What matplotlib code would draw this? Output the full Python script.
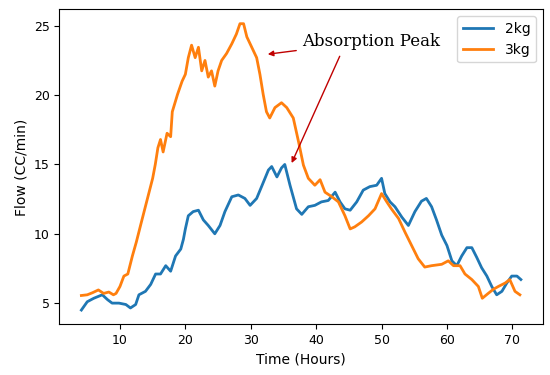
import matplotlib
matplotlib.use("Agg")
import matplotlib.pyplot as plt

# 2kg series (hours, flow)
hours_2kg = [4.1, 5.0, 6.0, 7.3, 8.1, 8.8, 9.85, 10.9, 11.6, 12.4, 12.9, 13.9, 14.7,
             15.45, 16.2, 17.0, 17.75, 18.5, 19.3, 19.7, 20.0, 20.45, 21.2, 22.0, 22.75,
             23.5, 24.5, 25.3, 26.05, 27.1, 28.1, 29.1, 29.9, 30.9, 31.65, 32.7, 33.2,
             34.0, 34.7, 35.2, 36.0, 37.0, 37.8, 38.8, 39.8, 40.8, 41.85, 42.9, 43.65,
             44.4, 45.2, 46.2, 47.2, 48.2, 49.25, 50.0, 50.5, 51.3, 52.05, 53.1, 54.1,
             55.1, 56.1, 56.85, 57.65, 58.4, 59.2, 60.0, 60.75, 61.5, 62.25, 63.05, 63.8,
             64.55, 65.3, 66.1, 66.85, 67.6, 68.4, 69.15, 69.9, 70.7, 71.3]
flow_2kg = [4.5, 5.1, 5.35, 5.6, 5.25, 5.0, 5.0, 4.9, 4.65, 4.9, 5.6, 5.85, 6.35,
            7.1, 7.1, 7.7, 7.3, 8.4, 8.9, 9.6, 10.35, 11.3, 11.6, 11.7, 11.0,
            10.6, 10.0, 10.6, 11.6, 12.67, 12.8, 12.55, 12.05, 12.55, 13.4, 14.6, 14.85,
            14.1, 14.75, 15.0, 13.5, 11.8, 11.4, 11.95, 12.05, 12.3, 12.4, 13.0, 12.3,
            11.8, 11.7, 12.3, 13.15, 13.4, 13.5, 14.0, 12.9, 12.3, 11.95, 11.2, 10.6,
            11.6, 12.35, 12.55, 11.95, 11.0, 9.9, 9.15, 8.05, 7.7, 8.4, 9.0, 9.0,
            8.3, 7.55, 6.95, 6.2, 5.6, 5.85, 6.45, 6.95, 6.95, 6.7]

# 3kg series (hours, flow)
hours_3kg = [4.1, 5.0, 5.8, 6.7, 7.5, 8.3, 9.0, 9.4, 10.0, 10.6, 11.2, 11.9, 12.5,
             13.2, 13.8, 14.4, 15.0, 15.4, 15.8, 16.2, 16.6, 17.2, 17.75, 18.0, 18.8,
             19.5, 20.0, 20.45, 20.95, 21.5, 22.0, 22.5, 23.0, 23.5, 24.0, 24.5, 25.0,
             25.55, 26.3, 27.1, 27.8, 28.35, 28.9, 29.4, 30.15, 30.9, 31.4, 31.9, 32.4,
             32.9, 33.7, 34.7, 35.5, 36.5, 37.3, 38.05, 38.8, 39.8, 40.6, 41.35, 42.4,
             43.4, 44.4, 45.2, 45.9, 46.95, 48.0, 49.0, 50.0, 50.8, 51.5, 52.6, 53.6,
             54.6, 55.6, 56.6, 57.65, 59.2, 60.2, 61.0, 62.0, 62.75, 63.8, 64.8, 65.4,
             66.3, 67.1, 67.85, 68.9, 69.6, 70.4, 71.15]
flow_3kg = [5.55, 5.6, 5.75, 5.95, 5.7, 5.8, 5.6, 5.7, 6.2, 6.95, 7.1, 8.4, 9.4,
            10.7, 11.8, 12.9, 14.0, 15.0, 16.2, 16.8, 15.9, 17.25, 17.0, 18.8, 20.05,
            21.0, 21.5, 22.7, 23.6, 22.7, 23.45, 21.75, 22.5, 21.3, 21.75, 20.65, 21.75,
            22.5, 23.0, 23.7, 24.4, 25.15, 25.15, 24.2, 23.45, 22.7, 21.5, 20.05, 18.8,
            18.35, 19.1, 19.45, 19.1, 18.35, 16.65, 14.95, 14.0, 13.5, 13.9, 13.0, 12.67,
            12.3, 11.3, 10.35, 10.5, 10.85, 11.3, 11.8, 12.9, 12.3, 11.8, 11.1, 10.1,
            9.15, 8.2, 7.6, 7.7, 7.8, 8.05, 7.7, 7.7, 7.1, 6.7, 6.2, 5.35,
            5.7, 6.0, 6.2, 6.45, 6.7, 5.85, 5.6]

fig = plt.figure(figsize=(5.5, 3.75), dpi=100)
ax = fig.add_axes([0.108, 0.135, 0.879, 0.84])

ax.plot(hours_2kg, flow_2kg, color="#1f77b4", lw=2.0, label="2kg")
ax.plot(hours_3kg, flow_3kg, color="#ff7f0e", lw=2.0, label="3kg")

ax.set_xlabel("Time (Hours)", fontsize=10)
ax.set_ylabel("Flow (CC/min)", fontsize=10)
ax.tick_params(labelsize=9)
ax.set_xticks([10, 20, 30, 40, 50, 60, 70])
ax.set_yticks([5, 10, 15, 20, 25])
ax.legend(loc="upper right", fontsize=10, handlelength=2.2)

# аннотация: две стрелки от подписи
arrow_kw = dict(arrowstyle="-|>", color="#c00000", lw=1.0, mutation_scale=8)
ax.annotate("Absorption Peak", xy=(32.6, 22.95), xytext=(37.8, 23.9),
            fontsize=12, family="DejaVu Serif", va="center", ha="left",
            arrowprops=dict(arrow_kw, shrinkA=2, shrinkB=0))
ax.annotate("", xy=(36.25, 15.1), xytext=(43.6, 22.8),
            arrowprops=dict(arrow_kw, shrinkA=0, shrinkB=0))

fig.savefig("out.png", dpi=100)
